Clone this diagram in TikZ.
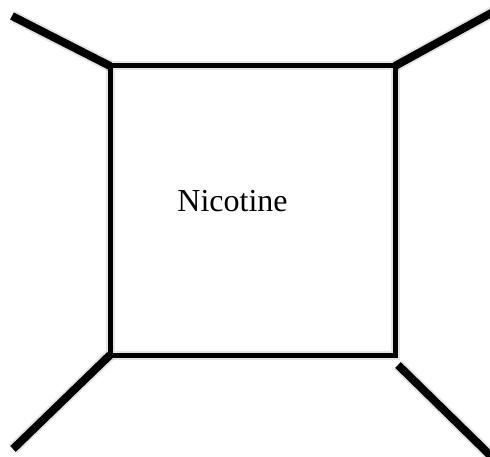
\documentclass[tikz,border=0pt]{standalone}
\usepackage{fontspec}
\setmainfont{Liberation Serif}
\begin{document}
\begin{tikzpicture}[x=1pt,y=-1pt,
  box/.style={line width=5pt,line cap=butt,line join=miter},
  arm/.style={line width=8pt,line cap=butt},
  shade/.style={draw=black,opacity=0.1,line width=12pt},
  label/.style={font=\fontsize{32}{36}\selectfont,inner sep=0pt,anchor=base}]
\useasboundingbox (0,0) rectangle (490,457);
\coordinate (c1) at (110,66);
\coordinate (c2) at (395,66);
\coordinate (c3) at (395,355);
\coordinate (c4) at (110,355);
\coordinate (e1) at (12,16);
\coordinate (e2) at (495,11);
\coordinate (s3) at (398,365);
\coordinate (e3) at (496,461);
\coordinate (e4) at (13,449);
% soft shadows
\begin{scope}[shift={(2.5,3)}]
  \draw[shade] (e1) -- (c1);
  \draw[shade] (c2) -- (e2);
  \draw[shade] (s3) -- (e3);
  \draw[shade] (c4) -- (e4);
  \draw[shade,line width=9pt] (c1) -- (c2) -- (c3) -- (c4) -- cycle;
\end{scope}
\draw[arm] (e1) -- (c1);
\draw[arm] (c2) -- (e2);
\draw[arm] (s3) -- (e3);
\draw[arm] (c4) -- (e4);
\draw[box] (c1) -- (c2) -- (c3) -- (c4) -- cycle;
\node[label] (t) at (232.5,212) {Nicotine};
\end{tikzpicture}
\end{document}
